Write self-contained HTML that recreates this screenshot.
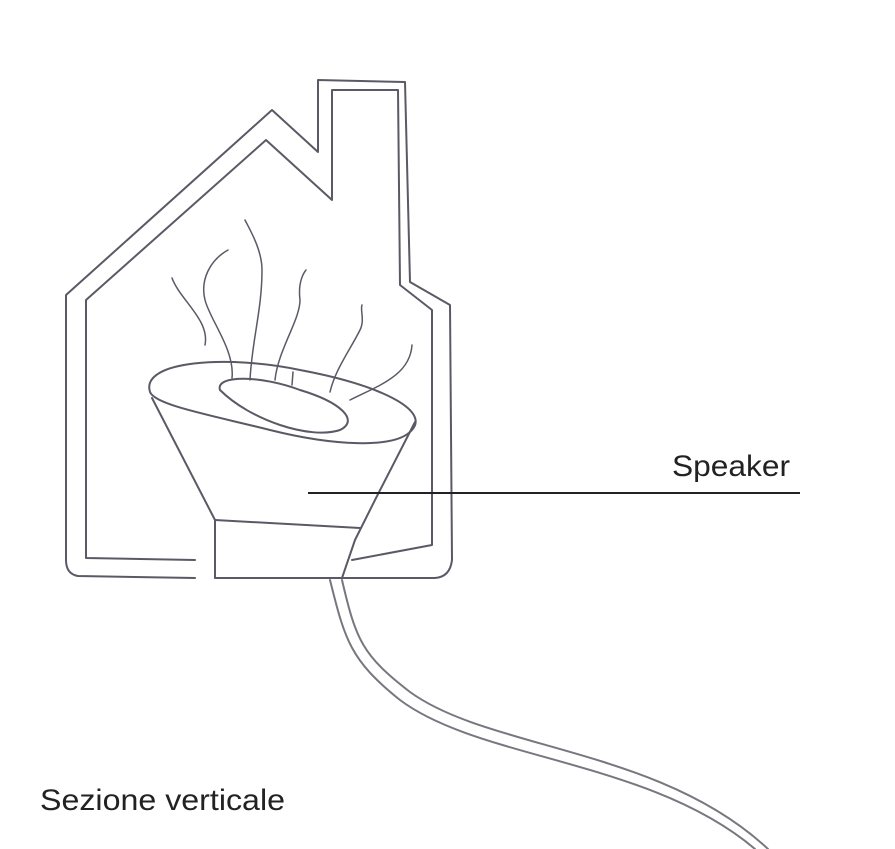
<!DOCTYPE html>
<html><head><meta charset="utf-8"><style>
html,body{margin:0;padding:0;background:#fff;}
svg{display:block}
text{font-family:"Liberation Sans",sans-serif;fill:#222}
</style></head><body>
<svg width="895" height="849" viewBox="0 0 895 849" xmlns="http://www.w3.org/2000/svg">
<g fill="none" stroke="#5a5a66" stroke-width="2" stroke-linejoin="round" stroke-linecap="round">
<path d="M195,578 L78,576 Q66,574 66,560 L66,295 L272,110 L318,152 L318,80 L405,82 L410,282 L450,305 L452,560 Q450,577 435,578 L215,578"/>
<path d="M195,560 L86,558 L86,300 L266,140 L332,200 L332,90 L398,90 L400,285 L432,310 L432,545 L352,560"/>
<path d="M215,578 L215,520 L360,528"/>
<path d="M152,398 L215,520"/>
<path d="M415,422 L375,500 L355,540 L342,578"/>
<path d="M150,392 C140,360 230,355 300,370 C380,385 430,410 412,430 C395,450 330,445 270,430 C210,415 155,405 150,392 Z"/>
<path d="M220,390 C215,375 260,375 300,390 C340,402 360,420 340,430 C310,440 250,420 220,390 Z"/>
<path d="M232,378 C235,350 210,320 205,300 C200,280 210,260 228,250" stroke-width="1.5"/>
<path d="M172,278 C180,300 210,320 205,345" stroke-width="1.5"/>
<path d="M250,380 C252,340 262,310 262,270 C262,250 250,230 245,220" stroke-width="1.5"/>
<path d="M275,380 C278,350 300,320 300,300 C298,285 302,275 306,270" stroke-width="1.5"/>
<path d="M330,392 C335,370 350,350 360,330 C365,320 360,310 362,305" stroke-width="1.5"/>
<path d="M350,400 C380,385 410,375 412,345" stroke-width="1.5"/>
<path d="M292,385 L293,372" stroke-width="1.5"/>
<path d="M330,580 C345,640 350,660 400,700 C480,760 650,760 755,849" stroke="#777780"/>
<path d="M342,580 C356,640 362,655 410,692 C490,750 660,748 768,849" stroke="#777780"/>
</g>
<line x1="308" y1="493" x2="800" y2="493" stroke="#222" stroke-width="2"/>
<text x="672" y="476" font-size="30" textLength="118" lengthAdjust="spacingAndGlyphs">Speaker</text>
<text x="40" y="810" font-size="30" textLength="245" lengthAdjust="spacingAndGlyphs">Sezione verticale</text>
</svg>
</body></html>
